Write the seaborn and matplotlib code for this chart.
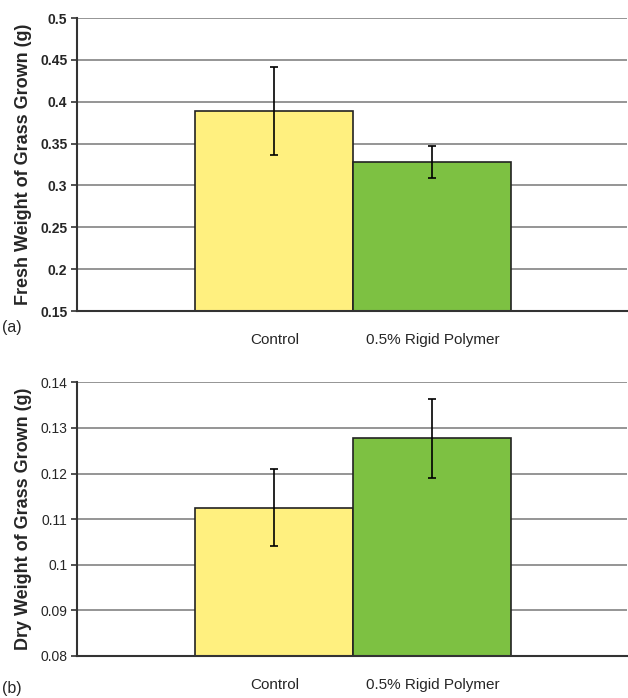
import numpy as np
import pandas as pd
import matplotlib
matplotlib.use('Agg')
import matplotlib.pyplot as plt
import seaborn as sns

# values
categories = ['Control', '0.5% Rigid Polymer']
fresh_mean = [0.389, 0.328]
fresh_err = [0.053, 0.019]
dry_mean = [0.1125, 0.1277]
dry_err = [0.0084, 0.0087]
fresh_ticks = [0.15, 0.2, 0.25, 0.3, 0.35, 0.4, 0.45, 0.5]
fresh_ticklabels = ['0.15', '0.2', '0.25', '0.3', '0.35', '0.4', '0.45', '0.5']
dry_ticks = [0.08, 0.09, 0.1, 0.11, 0.12, 0.13, 0.14]
dry_ticklabels = ['0.08', '0.09', '0.1', '0.11', '0.12', '0.13', '0.14']
bar_colors = ['#FFF07F', '#7DC142']

sns.set_style('whitegrid')
plt.rcParams['font.family'] = ['Liberation Sans', 'DejaVu Sans']


def panel(ax, means, errs, ticks, ticklabels, ylabel, bold_ticks):
    df = pd.DataFrame({'group': categories, 'value': means})
    sns.barplot(data=df, x='group', y='value', hue='group', palette=bar_colors,
                saturation=1, width=1, edgecolor='#222222', linewidth=1.2,
                legend=False, ax=ax, zorder=2)
    ax.errorbar(x=np.arange(len(categories)), y=means, yerr=errs, fmt='none',
                ecolor='black', elinewidth=1.2, capsize=3, capthick=1.2, zorder=3)
    ax.set_xlim(-1.25, 2.23)
    ax.set_ylim(ticks[0], ticks[-1])
    ax.set_yticks(ticks)
    ax.set_yticklabels(ticklabels, fontsize=10,
                       fontweight='bold' if bold_ticks else 'normal')
    ax.tick_params(axis='y', left=True, length=4, width=1.2, color='#333333', pad=3)
    ax.tick_params(axis='x', bottom=False, pad=12, labelsize=11)
    ax.set_xlabel('')
    ax.set_ylabel(ylabel, fontsize=13, fontweight='bold', labelpad=6)
    ax.grid(False, axis='x')
    ax.grid(True, axis='y', color='#8c8c8c', linewidth=1.3)
    ax.set_axisbelow(True)
    for s in ['top', 'right']:
        ax.spines[s].set_visible(False)
    ax.spines['left'].set_color('#333333')
    ax.spines['left'].set_linewidth(1.5)
    ax.spines['bottom'].set_color('#333333')
    ax.spines['bottom'].set_linewidth(1.5)
    ax.spines['left'].set_zorder(4)
    ax.spines['bottom'].set_zorder(4)


fig = plt.figure(figsize=(6.28, 6.98), dpi=100)
ax1 = fig.add_axes([0.1226, 0.5544, 0.8754, 0.4198])
ax2 = fig.add_axes([0.1226, 0.0602, 0.8754, 0.3921])

panel(ax1, fresh_mean, fresh_err, fresh_ticks, fresh_ticklabels,
      'Fresh Weight of Grass Grown (g)', True)
panel(ax2, dry_mean, dry_err, dry_ticks, dry_ticklabels,
      'Dry Weight of Grass Grown (g)', False)

fig.text(0.003, 1 - 327 / 698, '(a)', fontsize=11.5, va='center', ha='left')
fig.text(0.003, 1 - 689 / 698, '(b)', fontsize=11.5, va='center', ha='left')

fig.savefig('out.png', dpi=100)
